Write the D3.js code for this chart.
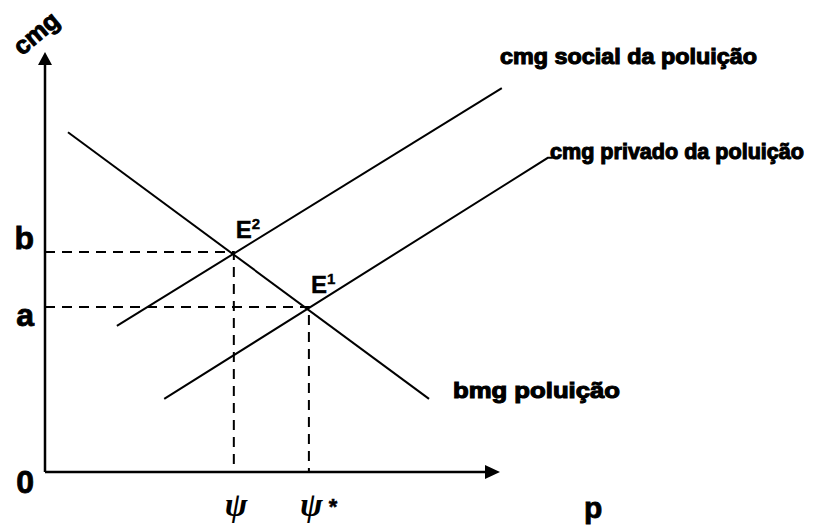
<!DOCTYPE html>
<html>
<head>
<meta charset="utf-8">
<script src="https://cdn.jsdelivr.net/npm/d3@7"></script>
<style>
  body { margin: 0; background: #fff; }
  svg { display: block; }
  .lbl { font-family: "Liberation Sans", Arial, sans-serif; font-weight: bold; fill: #000; stroke: #000; }
  .psi { font-family: "Liberation Serif", "DejaVu Serif", serif; font-style: italic; font-weight: bold; fill: #000; }
</style>
</head>
<body>
<div class="chart"></div>
<script>
// curvas do gráfico (pontos inicial e final, em unidades do gráfico)
const curveNames = ['bmg poluição', 'cmg social da poluição', 'cmg privado da poluição'];
const curveStart = [[5.05, 80.9], [15.8, 34.8], [26.2, 17.4]];
const curveEnd = [[84.4, 17.4], [100.4, 91.4], [110.5, 74.8]];

// pontos de equilíbrio
const eqNames = ['E', 'E'];
const eqSup = ['2', '1'];
const eqX = [41.5, 58.0];
const eqY = [52.4, 39.3];

// rótulos dos eixos
const yTickLabels = ['0', 'b', 'a'];
const yTickValues = [0, 52.4, 39.3];
const xTickLabels = ['ψ', 'ψ'];
const xTickStar = ['', ' *'];
const xTickValues = [41.5, 58.0];

const svg_width = 817;
const svg_height = 527;

const svg = d3.select('.chart').append('svg')
    .attr('width', svg_width).attr('height', svg_height);

// escalas: unidades -> pixels
const X = d3.scaleLinear().domain([0, 100]).range([45, 500]);
const Y = d3.scaleLinear().domain([0, 100]).range([472, 52]);

// eixos com setas
svg.append('path')
    .attr('d', `M${X(0)},${Y(0)}V${Y(100) + 12}M${X(0)},${Y(0)}H${X(100) - 13}`)
    .attr('stroke', '#000').attr('stroke-width', 2.5).attr('fill', 'none');
svg.append('path')
    .attr('d', `M${X(0)},${Y(100)}l-7,13h14z`)
    .attr('fill', '#000');
svg.append('path')
    .attr('d', `M${X(100)},${Y(0)}l-15,-7v14z`)
    .attr('fill', '#000');

// linhas tracejadas até os eixos
eqX.forEach((ex, i) => {
    svg.append('path')
        .attr('d', `M${X(0)},${Y(eqY[i])}H${X(ex)}V${Y(0)}`)
        .attr('stroke', '#000').attr('stroke-width', 2)
        .attr('stroke-dasharray', '10,7').attr('fill', 'none');
});

// curvas
const line = d3.line().x(d => X(d[0])).y(d => Y(d[1]));
curveNames.forEach((name, i) => {
    const pts = [curveStart[i], curveEnd[i]];
    if (i === 2) pts.push([curveEnd[i][0] + 1.1, curveEnd[i][1]]); // pequeno gancho até o rótulo
    svg.append('path')
        .attr('d', line(pts))
        .attr('stroke', '#000').attr('stroke-width', 2).attr('fill', 'none');
});

// rótulos das curvas
const curveLabelPos = [[453, 398, 167], [500, 64, 257], [550, 159, 254]];
curveNames.forEach((name, i) => {
    svg.append('text').attr('class', 'lbl')
        .attr('x', curveLabelPos[i][0]).attr('y', curveLabelPos[i][1])
        .attr('font-size', 22)
        .attr('textLength', curveLabelPos[i][2]).attr('lengthAdjust', 'spacingAndGlyphs')
        .attr('stroke-width', 1.1)
        .text(name);
});

// rótulos dos equilíbrios
eqNames.forEach((n, i) => {
    const t = svg.append('text').attr('class', 'lbl')
        .attr('x', X(eqX[i]) + 2).attr('y', Y(eqY[i]) - 14)
        .attr('font-size', 24).attr('stroke-width', 0.4);
    t.append('tspan').text(n);
    t.append('tspan').text(eqSup[i]).attr('font-size', 15).attr('dy', -9);
});

// rótulos do eixo y
yTickLabels.forEach((l, i) => {
    svg.append('text').attr('class', 'lbl')
        .attr('x', 34).attr('y', Y(yTickValues[i]) + (i === 0 ? 21 : i === 1 ? -3 : 19))
        .attr('text-anchor', 'end').attr('font-size', 32).attr('stroke-width', 0.8)
        .text(l);
});

// rótulos do eixo x
xTickLabels.forEach((l, i) => {
    const t = svg.append('text')
        .attr('x', X(xTickValues[i]) - 9).attr('y', 516);
    t.append('tspan').attr('class', 'psi').attr('font-size', 34).text(l);
    if (xTickStar[i]) t.append('tspan').attr('class', 'lbl').attr('font-size', 22)
        .attr('stroke-width', 0.5).attr('dy', -2).text(xTickStar[i]);
});

// títulos dos eixos
svg.append('text').attr('class', 'lbl')
    .attr('x', 584).attr('y', 518).attr('font-size', 30).attr('stroke-width', 0.8).text('p');
svg.append('text').attr('class', 'lbl')
    .attr('transform', 'translate(36,33) rotate(-40)')
    .attr('text-anchor', 'middle').attr('dy', '0.35em')
    .attr('font-size', 25).attr('stroke-width', 1)
    .text('cmg');
</script>
</body>
</html>
